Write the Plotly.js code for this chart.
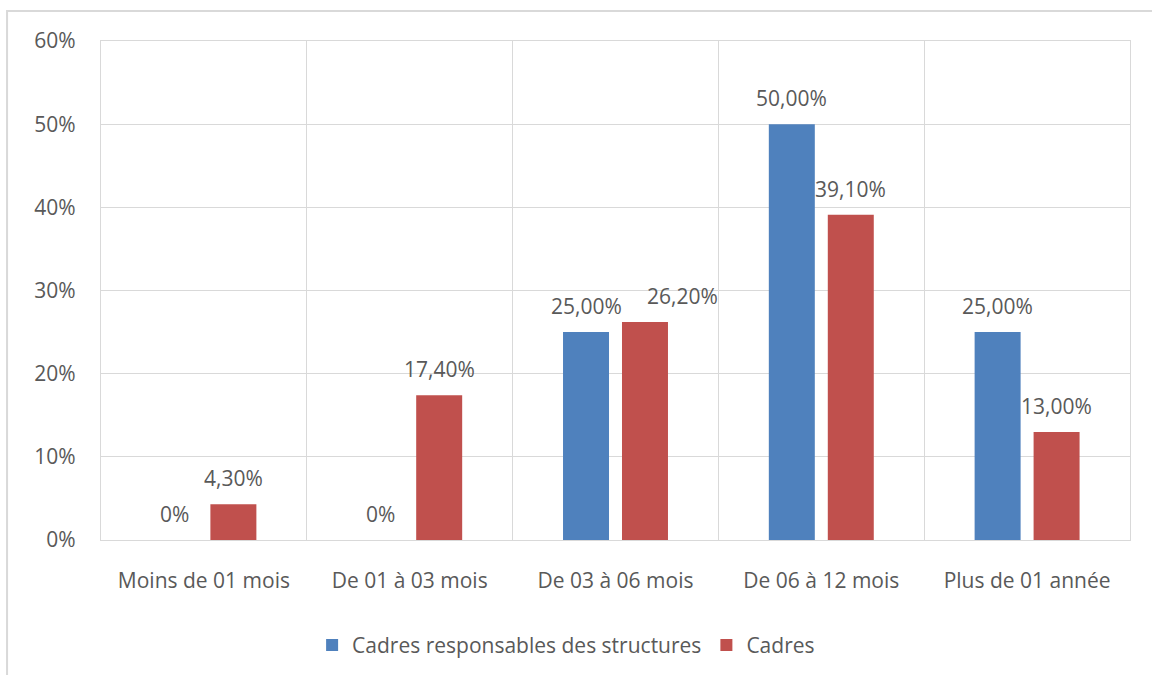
<!DOCTYPE html>
<html>
<head>
<meta charset="utf-8">
<script src="https://cdn.plot.ly/plotly-3.0.1.min.js"></script>
<style>
  html, body { margin: 0; padding: 0; background: #ffffff; }
  #chart { width: 1152px; height: 675px; }
</style>
</head>
<body>
<div id="chart"></div>
<script>
// Durée par tranche, en pourcentage
const categories = ["Moins de 01 mois", "De 01 à 03 mois", "De 03 à 06 mois", "De 06 à 12 mois", "Plus de 01 année"];
const seriesNames = ["Cadres responsables des structures", "Cadres"];
const responsables = [0, 0, 25.0, 50.0, 25.0];
const cadres = [4.3, 17.4, 26.2, 39.1, 13.0];
const yTickValues = [0, 10, 20, 30, 40, 50, 60];

const colors = ["#4F81BD", "#C0504D"];
const textColor = "#595959";
const gridColor = "#D9D9D9";
const fontFamily = "'Open Sans', Lato, sans-serif";
const fontSize = 21;

// French number format: comma as decimal separator, bare "0%" for zero
function fmt(v) {
  return v === 0 ? "0%" : v.toFixed(2).replace(".", ",") + "%";
}

const allSeries = [responsables, cadres];

const traces = allSeries.map((vals, i) => ({
  type: "bar",
  name: seriesNames[i],
  x: categories,
  y: vals,
  marker: { color: colors[i] },
  hoverinfo: "skip"
}));

// Value labels sit above each bar
const annotations = [];
const slotOffset = 29.5;
allSeries.forEach((vals, i) => {
  vals.forEach((v, j) => {
    let dx = (i === 0 ? -slotOffset : slotOffset);
    // nudge the label that would collide with its neighbour
    if (i === 1 && j === 2) dx += 37;
    annotations.push({
      x: categories[j], y: v, xref: "x", yref: "y",
      text: fmt(v), showarrow: false,
      xshift: dx, yshift: 26,
      font: { family: fontFamily, size: fontSize, color: textColor }
    });
  });
});

const layout = {
  width: 1152, height: 675,
  margin: { l: 101, r: 22, t: 41, b: 135 },
  paper_bgcolor: "#ffffff",
  plot_bgcolor: "#ffffff",
  font: { family: fontFamily, size: fontSize, color: textColor },
  barmode: "group",
  bargap: 0.427,
  bargroupgap: 0.22,
  showlegend: true,
  legend: {
    orientation: "h",
    x: 0.452, xanchor: "center",
    yref: "container",
    y: 0.044, yanchor: "middle",
    font: { family: fontFamily, size: fontSize, color: textColor },
    traceorder: "normal"
  },
  xaxis: {
    type: "category",
    automargin: false,
    tickson: "boundaries",
    showgrid: true, gridcolor: gridColor, gridwidth: 1.3,
    showline: true, linecolor: gridColor, linewidth: 1.3, mirror: true,
    ticks: "", ticklen: 0,
    ticklabelstandoff: 21,
    tickfont: { family: fontFamily, size: fontSize, color: textColor },
    fixedrange: true
  },
  yaxis: {
    range: [0, 60],
    automargin: false,
    tickvals: yTickValues,
    ticktext: yTickValues.map(v => v + "%"),
    showgrid: true, gridcolor: gridColor, gridwidth: 1.3,
    zeroline: false,
    showline: true, linecolor: gridColor, linewidth: 1.3, mirror: true,
    ticks: "", ticklabelstandoff: 20,
    tickfont: { family: fontFamily, size: fontSize, color: textColor },
    fixedrange: true
  },
  annotations: annotations,
  shapes: [{
    // outer chart frame
    type: "path", xref: "paper", yref: "paper",
    path: "M -0.0913,-0.3 L -0.0913,1.0601 L 1.05,1.0601",
    line: { color: gridColor, width: 2 }
  }]
};

Plotly.newPlot("chart", traces, layout, { displayModeBar: false, staticPlot: true });
</script>
</body>
</html>
